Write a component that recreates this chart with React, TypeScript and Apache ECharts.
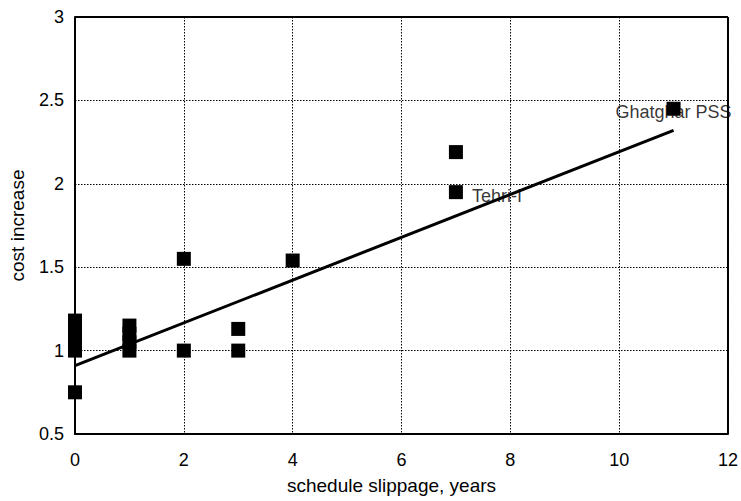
import React, { useEffect, useRef } from "react";
import * as echarts from "echarts";

const slippageYears = [0, 0, 0, 0, 0, 0, 1, 1, 1, 1, 2, 2, 3, 3, 4, 7, 7, 11];
const costIncrease = [0.75, 1.0, 1.05, 1.1, 1.15, 1.18, 1.0, 1.05, 1.1, 1.15, 1.55, 1.0, 1.13, 1.0, 1.54, 2.19, 1.95, 2.45];
const pointNames = ["", "", "", "", "", "", "", "", "", "", "", "", "", "", "", "", "Tehri-I", "Ghatghar PSS"];
const trendX = [0, 11];
const trendY = [0.91, 2.32];

export default function App() {
  const ref = useRef<HTMLDivElement>(null);
  useEffect(() => {
    if (!ref.current) return;
    const chart = echarts.init(ref.current, null, { renderer: "svg" });
    const pts = slippageYears.map((x, i) => [x, costIncrease[i]]);
    const font = "Liberation Sans, Arial, sans-serif";
    const dotted = { color: "#000", type: [1.5, 1.5], width: 1 };
    chart.setOption({
      animation: false,
      backgroundColor: "#fff",
      grid: { left: 74, right: 12, top: 17, bottom: 67 },
      xAxis: {
        type: "value",
        min: 0,
        max: 12,
        interval: 2,
        name: "schedule slippage, years",
        nameLocation: "middle",
        nameGap: 42,
        nameTextStyle: { color: "#000", fontSize: 19, fontFamily: font, padding: [0, 20, 0, 0] },
        axisLine: { lineStyle: { color: "#000", width: 2 } },
        axisTick: { show: false },
        axisLabel: { color: "#000", fontSize: 18, fontFamily: font, margin: 17 },
        splitLine: { show: true, lineStyle: dotted },
      },
      yAxis: {
        type: "value",
        min: 0.5,
        max: 3,
        interval: 0.5,
        name: "cost increase",
        nameLocation: "middle",
        nameGap: 48,
        nameTextStyle: { color: "#000", fontSize: 19, fontFamily: font },
        axisLine: { show: true, lineStyle: { color: "#000", width: 2 } },
        axisTick: { show: false },
        axisLabel: { color: "#000", fontSize: 18, fontFamily: font, margin: 11 },
        splitLine: { show: true, lineStyle: dotted },
      },
      series: [
        {
          type: "line",
          data: trendX.map((x, i) => [x, trendY[i]]),
          symbol: "none",
          lineStyle: { color: "#000", width: 3 },
          z: 3,
        },
        {
          type: "scatter",
          data: pts.map((p, i) => {
            const name = pointNames[i];
            const item: any = { value: p, name };
            if (name === "Tehri-I") {
              item.label = { show: true, position: "right", distance: 16, offset: [0, 4] };
            } else if (name) {
              item.label = { show: true, position: "inside", offset: [0, 3] };
            }
            return item;
          }),
          symbol: "rect",
          symbolSize: 0.1,
          itemStyle: { color: "rgba(0,0,0,0)" },
          label: {
            show: false,
            formatter: (p: any) => p.name,
            color: "#000",
            fontSize: 18,
            fontFamily: font,
          },
          z: 2,
        },
        {
          type: "scatter",
          data: pts,
          symbol: "rect",
          symbolSize: 14,
          itemStyle: { color: "#000", opacity: 1 },
          z: 4,
        },
        {
          type: "line",
          data: [[12, 0.5], [12, 3]],
          symbol: "none",
          lineStyle: { color: "#000", width: 2 },
          z: 1,
        },
        {
          type: "line",
          data: [[0, 3], [12, 3]],
          symbol: "none",
          lineStyle: { color: "#000", width: 2 },
          z: 1,
        },
      ],
    });
    return () => chart.dispose();
  }, []);
  return (
    <div
      ref={ref}
      style={{ position: "fixed", left: 0, top: 0, width: 741, height: 501 }}
    />
  );
}
